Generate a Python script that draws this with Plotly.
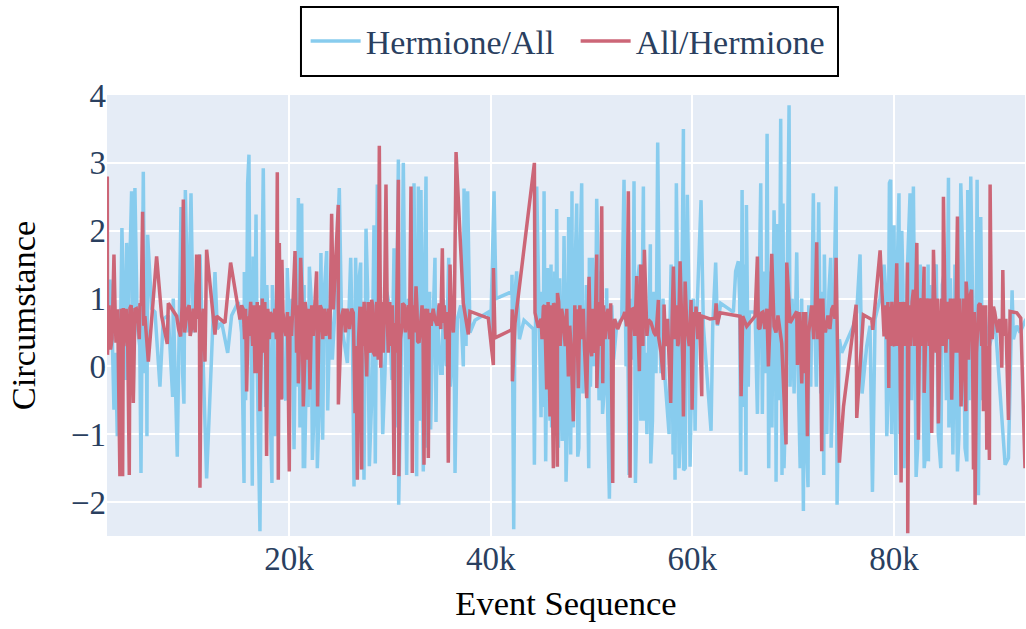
import plotly.graph_objects as go

# Event sequence (thousands), Circumstance value
hermione_all_spikes = [
(2.0,.5),(2.24,1.28),(2.64,-.64),(2.97,-1.03),(3.17,.8),(3.43,2.04),(3.63,.3),(3.76,-.2),(3.9,1.82),(4.06,.2),
(4.23,1.6),(4.39,2.58),(4.56,-.4),(4.72,2.63),(4.95,.6),(5.32,-1.57),(5.55,2.87),(5.71,-.1),(5.91,-1.03),(5.98,1.94),
(6.38,.85),(6.71,.8),(7.2,-.3),(7.53,.7),(8.03,.75),(8.46,-.45),(8.52,1.0),(8.92,-1.33),(9.29,2.35),(9.45,-.1),
(9.58,-.55),(9.72,2.6),(10.01,.5),(10.28,2.55),(10.51,.5),(11.17,1.65),(11.83,-1.65),(12.66,1.39),(12.89,.55),(13.32,.65),
(13.92,.2),(14.31,.75),(14.97,.95),(15.3,.5),(15.54,-1.72),(15.57,1.39),(15.8,.6),(15.9,2.7),(16.03,3.12),(16.13,.5),
(16.36,-1.76),(16.45,1.62),(16.73,2.24),(16.86,-.1),(17.12,-2.43),(17.45,2.92),(17.68,-.6),(17.95,.5),(18.31,-1.72),(18.35,1.2),
(18.61,-1.03),(19.11,.8),(19.44,-.4),(19.84,1.45),(20.1,.2),(20.5,-1.22),(20.66,.8),(20.93,2.48),(21.09,-.9),(21.26,2.4),
(21.42,-1.5),(21.55,-1.5),(21.75,.2),(22.02,1.47),(22.32,-1.38),(22.58,.6),(22.81,-1.5),(23.17,1.67),(23.34,-1.08),(23.74,1.7),
(23.84,-.65),(24.07,.9),(24.56,.85),(24.99,2.63),(25.22,.6),(25.79,.05),(26.12,1.6),(26.45,-1.77),(26.61,1.6),(26.78,0),
(27.11,1.53),(27.2,-1.52),(27.44,-1.67),(27.64,2.03),(27.97,-1.47),(28.43,2.08),(28.56,-1.43),(28.76,2.68),(29.19,0),(29.52,-.1),
(29.95,.9),(30.42,1.74),(30.52,-.9),(30.85,3.05),(30.88,-2.04),(31.34,3.0),(31.67,-1.6),(32.0,.5),(32.4,2.7),(32.66,-1.62),
(32.83,2.65),(33.09,2.6),(33.23,-.3),(33.32,-1.55),(33.59,2.8),(33.79,.2),(34.05,-.93),(34.48,1.6),(34.58,-.82),(34.81,.5),
(35.04,-.1),(35.47,.4),(35.84,1.6),(36.23,.3),(36.47,-1.57),(36.7,.7),(37.03,.9),(37.29,0),(37.36,2.62),(37.56,.3),
(37.72,2.58),(37.95,.5),(38.45,.68),(39.77,.8),(40.0,.5),(40.34,2.58),(40.53,1.0),(42.09,1.1),(42.12,1.35),(42.19,-.5),
(42.29,-2.4),(42.42,1.1),(42.58,1.4),(42.85,.4),(43.31,.68),(44.24,.55),(44.34,-1.45),(44.57,2.65),(44.9,.1),(45.0,-.75),
(45.3,2.58),(45.46,-1.4),(45.63,1.45),(45.89,-.8),(45.99,1.5),(46.22,-.6),(46.55,2.32),(46.72,-1.2),(47.28,1.92),(47.48,-1.7),
(47.74,2.2),(47.94,-1.3),(48.07,2.58),(48.2,-.9),(48.54,2.4),(48.64,-1.33),(49.03,2.7),(49.36,.2),(49.73,-1.5),(49.79,1.6),
(50.09,1.6),(50.26,0),(50.52,2.47),(50.85,-.2),(51.25,-.4),(51.51,1.15),(51.78,-1.95),(52.01,.9),(52.5,.6),(53.0,.7),
(53.23,2.75),(53.43,0),(53.73,-1.6),(54.0,1.0),(54.22,2.73),(54.36,-1.72),(54.75,1.5),(55.15,2.65),(55.25,-.8),(55.84,1.8),
(55.88,-1.43),(56.4,-.1),(56.57,3.3),(56.74,.8),(57.3,-.2),(57.7,-1.0),(57.9,1.5),(58.29,-1.67),(58.42,2.7),(58.69,-1.5),
(59.12,3.5),(59.14,-1.53),(59.51,2.53),(59.78,-1.48),(60.28,-.95),(60.44,.7),(60.87,2.45),(61.1,.6),(61.86,-.95),(62.03,.6),
(62.32,1.53),(62.49,.6),(62.82,.93),(64.08,.8),(64.57,1.55),(64.8,-1.55),(64.94,2.6),(65.07,-.6),(65.33,-1.6),(65.37,2.38),
(65.66,.8),(66.23,.8),(66.46,-.7),(66.79,2.7),(66.95,-.7),(67.42,3.43),(67.58,-1.5),(68.11,2.3),(68.31,-1.7),(68.44,2.1),
(68.77,3.65),(68.9,-1.6),(69.1,-1.5),(69.6,3.85),(69.7,-.3),(70.36,1.68),(70.53,-.3),(71.02,-2.13),(71.09,.7),(71.48,-1.78),
(71.55,.9),(72.01,2.55),(72.18,.6),(72.54,2.42),(72.74,-.4),(73.04,-1.6),(73.1,1.65),(73.73,1.6),(73.77,-1.2),(74.26,2.65),
(74.36,-2.04),(74.59,.4),(74.82,.2),(75.98,.6),(76.31,.8),(76.64,1.65),(76.84,-.4),(77.3,.3),(77.63,.6),(77.87,-1.85),
(78.13,.7),(78.63,1.0),(79.02,1.5),(79.29,-1.03),(79.55,2.7),(79.68,2.75),(79.78,-1.0),(80.01,2.08),(80.18,-1.6),(80.5,2.55),
(80.78,2.0),(81.0,-1.5),(81.6,2.55),(81.93,2.65),(82.2,-1.63),(82.6,1.5),(83.0,-1.5),(83.39,1.5),(83.42,-1.4),(84.2,1.5),
(84.65,-1.5),(85.0,1.4),(85.41,2.78),(85.45,-.9),(86.3,-1.55),(86.63,2.7),(87.23,-1.4),(87.32,2.6),(87.62,2.8),(87.95,-1.5),
(88.25,2.75),(88.38,-1.9),(88.61,2.2),(89.04,.8),(89.47,.3),(90.04,.65),(91.03,-1.45),(91.36,-1.35),(91.72,1.12),(91.85,.4),
(92.19,.6),(92.5,.5),(93.1,.7),
]

hermione_all_band = [
(2.4,.9),(2.8,.2),(3.3,.6),(4.15,1.5),(4.85,1.2),(5.2,.3),(5.85,.9),
(9.1,.4),(9.9,.9),(10.7,1.1),
(15.7,-.5),(16.2,1.0),(16.6,.2),(17.3,1.0),(17.8,1.2),(18.1,-.3),(18.5,.7),(19.3,1.1),(19.7,-.5),(20.3,1.0),(20.8,-.3),
(21.2,.5),(21.5,1.2),(21.9,-.6),(22.2,1.0),(22.45,-.8),(22.7,1.0),(23.0,-.6),(23.5,1.1),(23.95,.1),(24.3,.1),
(26.3,.3),(26.9,1.2),(27.3,.2),(27.55,.1),(27.8,1.1),(28.2,-.5),(28.65,1.0),(29.3,-1.0),(29.7,1.1),(30.2,-.2),(30.7,1.0),
(31.1,-.3),(31.5,.6),(31.85,1.0),(32.2,-.4),(32.5,1.2),(32.95,-.8),(33.15,1.3),(33.45,1.2),(33.7,-1.2),(33.95,1.1),(34.2,.2),
(34.7,.9),(35.2,-.1),(35.3,1.0),(35.6,0),(36.0,-.3),(36.35,1.0),
(45.1,1.1),(45.2,-.6),(45.75,1.2),(46.05,-.9),(46.35,1.4),(46.45,-.7),(46.85,1.3),(47.1,-1.1),(47.35,1.2),(47.6,-.9),(47.85,1.3),
(48.1,-.7),(48.35,1.3),(48.75,-1.2),(48.85,1.5),(49.15,-.4),(49.5,1.2),(49.9,-.3),(50.4,.4),(50.65,1.5),(50.75,-.5),(51.0,1.4),
(51.1,-.7),(51.4,-.3),(51.6,-.6),(52.2,.1),
(53.55,1.2),(53.85,.3),(54.1,.1),(54.5,-.7),(54.6,1.3),(54.9,-.8),(55.05,1.5),(55.35,.2),(55.5,-1.0),(55.7,1.2),(56.05,-.8),
(56.2,1.1),(56.9,-.1),(57.1,1.0),(57.5,-.7),(57.8,.7),(58.1,-1.3),(58.2,1.1),(58.55,1.2),(58.85,-.9),(59.0,1.4),(59.3,-1.5),
(59.4,1.3),(59.65,1.1),(59.9,-.5),(60.1,1.0),
(64.3,1.4),(64.7,1.0),(65.2,1.5),(65.55,-.3),(66.6,1.0),(67.1,1.4),(67.3,-.1),(67.7,1.4),(67.9,-.9),(68.25,1.3),(68.6,-.5),
(69.0,2.4),(69.3,-.3),(69.9,1.0),(70.1,-.4),(70.7,-1.5),(70.85,1.0),(71.25,-.9),(71.75,-.3),(72.1,1.0),(72.3,-.3),(72.9,1.1),
(73.35,-1.0),(73.55,1.1),(73.95,-.3),(74.1,1.4),
(79.15,1.2),(79.42,-.5),(79.9,.9),(80.3,1.2),(80.6,-1.0),(80.9,1.2),(81.15,-.3),(81.35,1.5),(81.75,-.5),(82.05,1.2),(82.35,-1.2),
(82.8,1.0),(83.2,-1.2),(83.55,1.2),(83.75,-.6),(83.95,1.4),(84.4,-1.0),(84.8,1.2),(85.2,-.5),(85.6,1.3),(85.85,-1.3),(86.05,1.5),
(86.45,-1.0),(86.85,1.5),(87.05,-1.2),(87.45,-.5),(87.8,1.0),(88.1,-.6),(88.5,1.0),(88.8,-.5),(89.2,.5),
]

all_hermione_spikes = [
(1.98,2.8),(2.0,.17),(2.3,.25),(2.64,1.65),(2.84,.35),(2.97,.84),(3.23,-1.62),(3.5,-1.62),(3.57,.86),(3.73,.49),
(4.16,-1.6),(4.23,.86),(4.56,-.54),(4.72,.84),(5.05,.64),(5.22,.93),(5.48,2.28),(5.71,.74),(6.05,.07),(6.87,1.62),
(7.37,.74),(7.93,.33),(8.03,.93),(8.52,.81),(8.86,.74),(9.25,.44),(9.52,2.46),(9.78,.64),(9.91,.84),(10.34,.56),
(10.84,1.65),(11.1,1.65),(11.17,-1.79),(11.67,.07),(11.83,1.72),(12.66,.47),(12.82,.74),(13.65,.64),(14.21,1.53),(15.14,.69),
(15.47,.84),(15.8,-.37),(15.96,.74),(16.3,.59),(16.63,-.1),(17.12,-.66),(17.29,.93),(17.78,-1.32),(18.28,.74),(18.84,2.86),
(18.94,-1.67),(19.04,1.82),(19.27,-.49),(19.3,1.57),(19.6,.54),(20.03,-1.55),(20.1,.74),(20.6,1.7),(20.93,-.25),(21.16,1.6),
(21.42,-.59),(21.75,.74),(22.08,-.34),(22.74,1.4),(22.84,-.59),(23.24,.84),(23.74,.54),(24.23,2.25),(24.4,.84),(24.89,2.38),
(24.9,-.56),(25.22,.74),(25.89,.74),(26.38,.79),(26.55,-.69),(26.78,-1.67),(27.04,.88),(27.21,-1.52),(27.25,.88),(27.71,-.15),
(28.2,.98),(28.53,.15),(28.96,3.25),(29.1,-.02),(29.62,2.68),(29.75,.69),(30.42,-1.6),(30.52,.64),(30.85,2.75),(30.9,-1.62),
(31.24,.64),(31.27,.93),(31.67,.74),(32.1,2.65),(32.23,-1.57),(32.6,1.18),(32.76,.37),(33.09,.84),(33.39,-1.45),(33.59,.69),
(33.82,-1.35),(33.92,.79),(34.48,.69),(34.91,.93),(35.21,1.74),(35.31,.64),(35.8,-1.42),(35.97,1.5),(36.14,.69),(36.57,3.16),
(36.9,2.2),(37.29,.93),(37.79,.47),(37.95,.81),(39.77,.71),(40.27,.02),(40.28,1.45),(40.43,.42),(42.09,.54),(42.15,.84),
(42.16,-.22),(42.42,.64),(44.34,3.0),(44.4,.79),(44.73,.57),(45.23,.88),(45.56,-.34),(45.89,-.74),(46.22,-1.5),(46.24,.93),
(46.62,-1.48),(46.63,1.08),(47.21,.69),(47.71,-.15),(48.2,-.81),(48.54,.84),(48.7,-.32),(49.03,.64),(49.53,-.47),(49.76,1.32),
(50.02,.15),(50.52,1.65),(50.53,-.32),(51.02,2.36),(51.12,-.25),(51.51,.74),(51.91,.93),(52.11,-1.72),(52.17,.54),(53.17,.74),
(53.5,.59),(53.66,2.58),(53.83,-1.64),(54.0,.84),(54.49,1.33),(54.75,-.07),(54.89,1.5),(55.25,1.72),(55.65,.69),(56.64,.98),
(56.65,.44),(57.13,-.2),(57.2,.91),(57.86,-.54),(58.13,1.47),(58.62,.34),(58.79,1.55),(59.12,-.74),(59.29,1.25),(59.88,.98),
(59.98,-.64),(60.37,.88),(60.94,-.44),(60.96,.74),(61.76,.7),(62.26,.71),(62.36,.93),(62.49,.62),(62.75,.79),(64.74,.74),
(64.84,-.44),(65.0,.74),(65.4,.59),(66.23,.74),(66.46,1.62),(66.56,.57),(66.89,.79),(67.55,0),(67.88,1.66),(68.11,.59),
(68.87,.34),(69.3,-1.15),(69.37,1.53),(69.7,.64),(70.36,.81),(70.43,.02),(70.86,-.25),(71.42,-1.03),(71.68,.69),(72.34,1.83),
(72.5,.93),(72.84,-1.25),(73.0,.69),(73.83,.84),(74.26,1.6),(74.59,-1.42),(75.0,-.59),(76.25,.91),(76.31,-.76),(76.97,.76),
(77.8,.69),(77.9,.54),(78.63,1.71),(79.02,.44),(79.49,-.32),(79.52,.88),(79.95,.34),(80.28,1.52),(80.71,-1.71),(80.94,.64),
(81.34,1.53),(81.37,-2.46),(81.93,1.13),(82.27,1.82),(82.43,-1.08),(82.7,1.0),(82.99,1.47),(83.0,-.39),(83.4,.9),(83.75,-.98),
(83.92,1.72),(84.41,-.84),(84.91,2.5),(85.24,.64),(85.73,-.49),(86.3,2.21),(86.66,-.59),(87.13,-.66),(87.16,1.25),(87.7,1.13),
(87.89,-1.52),(88.05,-2.04),(88.55,.93),(88.88,-.66),(89.21,-1.23),(89.47,-1.38),(89.54,2.68),(89.87,.88),(90.7,-.02),(90.8,1.42),
(91.36,-.79),(91.52,.81),(92.19,.79),(92.58,.71),(93.0,-1.5),
]

all_hermione_band = [
(2.15,.9),(2.45,.4),(2.75,.85),(3.05,.35),(3.35,.85),(3.62,.3),(3.85,.85),(4.0,.4),(4.35,.9),(4.65,.35),(4.85,.85),(5.15,.4),(5.35,.9),(5.6,.6),
(9.05,.55),(9.4,.9),(9.65,.5),(10.1,.9),(10.2,.45),(10.5,.85),(10.7,.5),(11.0,.7),(11.3,.5),(11.5,.85),
(15.3,.9),(15.6,.4),(15.7,.85),(16.0,.45),(16.2,.95),(16.4,.3),(16.5,.9),(16.75,.2),(16.85,.95),(16.95,-.1),(17.05,.9),(17.2,.1),(17.35,1.0),
(17.5,.2),(17.6,.95),(17.7,.1),(17.9,.85),(18.05,.4),(18.15,.8),(18.4,.5),(18.6,.85),(18.75,.4),(19.15,.5),(19.4,.8),(19.7,.45),(19.85,.8),
(20.25,.45),(20.4,.95),(20.75,.2),(20.85,.9),(21.0,.1),(21.3,.95),(21.55,.05),(21.6,.95),(21.85,.1),(21.95,.85),(22.15,.2),(22.25,.9),(22.4,.45),
(22.55,.9),(22.95,.45),(23.1,.9),(23.35,.4),(23.5,.85),(23.65,.45),(23.9,.85),(24.05,.4),
(25.4,.85),(25.6,.5),(25.75,.85),(26.0,.55),(26.2,.85),(26.65,.3),(26.9,.4),(27.3,.3),(27.45,.95),(27.6,.1),(27.85,.95),(28.05,.2),(28.3,.9),(28.4,.2),
(28.7,.95),(28.85,.1),(29.2,.95),(29.35,.2),(29.5,1.2),(29.85,.2),(30.0,.95),(30.1,.3),(30.25,.9),(30.6,.2),(30.7,1.0),(31.05,.4),(31.45,.9),(31.55,.5),
(31.85,.9),(31.95,.4),(32.3,.9),(32.45,.5),(32.7,.85),(32.9,.35),(33.2,.9),(33.3,.4),(33.5,.85),(33.65,.4),(33.75,.85),(34.1,.6),(34.3,.85),(34.7,.6),
(35.05,.55),(35.4,.9),(35.55,.4),(35.7,.8),(36.05,.9),(36.3,.5),(36.4,.8),
(45.0,.7),(45.1,.4),(45.35,.9),(45.45,.2),(45.7,.95),(45.8,.1),(46.0,.9),(46.1,-.3),(46.35,.9),(46.5,-.3),(46.75,.95),(46.9,.3),(47.05,.85),(47.4,.3),
(47.55,.85),(47.85,.6),(48.0,.2),(48.35,.9),(48.45,.2),(48.85,.9),(48.95,.4),(49.2,.85),(49.3,.3),(49.65,.9),(49.9,.3),(50.15,.85),(50.3,.2),(50.42,.95),
(50.65,.2),(50.8,.95),(50.9,.3),(51.2,.9),(51.35,.4),(51.65,.85),(51.8,.4),(52.3,.7),(52.6,.55),(52.85,.65),
(53.3,.8),(53.55,.9),(53.9,.5),(54.15,.85),(54.3,.45),(54.55,.8),(54.65,.4),(55.0,.85),(55.1,.3),(55.4,.8),(55.5,.45),(55.9,.65),(56.2,.5),(56.4,.45),
(56.9,.2),(57.35,.3),(57.55,.7),(57.7,.1),(58.0,.7),(58.3,.4),(58.45,.9),(58.55,.3),(58.95,.8),(59.05,.1),(59.45,.6),(59.7,.3),(60.15,.8),(60.3,.6),(60.55,.4),(60.7,.8),
(66.7,.55),(67.0,.8),(67.2,.55),(67.4,.85),(67.7,.6),(68.0,.85),(68.3,.5),(68.5,.75),
(70.6,.8),(70.7,.3),(71.0,.8),(71.1,-.1),(71.25,.8),(71.55,.5),(71.85,.9),(72.05,.4),(72.2,.9),(72.45,.4),(72.6,1.0),(72.72,.3),(72.95,1.0),(73.2,.5),
(73.45,.75),(73.65,.55),(74.0,.9),(74.15,.7),
(79.1,.9),(79.3,.4),(79.4,.95),(79.65,.3),(79.8,.95),(80.05,.3),(80.15,.95),(80.4,.3),(80.5,.95),(80.6,.2),(80.85,.95),(81.05,.3),(81.15,.95),(81.25,.3),
(81.5,.9),(81.65,.3),(81.8,.95),(82.05,.3),(82.15,.95),(82.35,.3),(82.55,.95),(82.8,.3),(82.9,.95),(83.1,.3),(83.25,1.0),(83.5,.3),(83.6,1.0),(83.85,.3),
(84.05,1.0),(84.2,.2),(84.3,1.0),(84.55,.3),(84.7,1.0),(84.85,.3),(85.05,1.0),(85.15,.2),(85.35,.95),(85.5,.4),(85.6,1.0),(85.85,.2),(85.95,1.0),(86.1,.2),
(86.2,1.0),(86.4,.2),(86.5,1.0),(86.75,.2),(86.9,1.0),(87.0,.3),(87.3,.95),(87.4,.1),(87.5,1.0),(87.8,.2),(87.97,.8),(88.2,.2),(88.4,.9),(88.7,.3),(88.8,.9),
(89.0,.4),(89.1,.9),(89.35,.3),(89.65,.85),(89.75,.4),(90.0,.8),(90.3,.5),(90.5,.7),(90.9,.45),(91.1,.7),
]

k_to_events = 1000
series_names = ["Hermione/All", "All/Hermione"]
series_colors = ["#88CCEE", "#CC6677"]
series_points = [
    sorted(hermione_all_spikes + hermione_all_band, key=lambda p: p[0]),
    sorted(all_hermione_spikes + all_hermione_band, key=lambda p: p[0]),
]

fig = go.Figure()
for name, color, pts in zip(series_names, series_colors, series_points):
    fig.add_trace(go.Scatter(
        x=[p[0] * k_to_events for p in pts],
        y=[p[1] for p in pts],
        mode="lines", name=name,
        line=dict(color=color, width=3.5),
    ))

fig.update_layout(
    template="plotly",
    width=1026, height=629,
    margin=dict(l=107, r=1, t=95, b=93, autoexpand=False),
    font=dict(family="Liberation Serif", size=33, color="#2a3f5f"),
    legend=dict(
        orientation="h", x=0.5105, xanchor="center", y=1.1213, yanchor="middle",
        borderwidth=0, bgcolor="rgba(0,0,0,0)",
        font=dict(size=34), itemwidth=50, entrywidth=205, entrywidthmode="pixels",
    ),
    xaxis=dict(
        title=dict(text="Event Sequence", font=dict(color="black", size=34.5), standoff=14),
        range=[1950, 93000], dtick=20000, tick0=0, gridwidth=2, gridcolor="white",
        tickfont=dict(size=33), zeroline=False,
    ),
    yaxis=dict(
        title=dict(text="Circumstance", font=dict(color="black", size=34.5), standoff=24),
        range=[-2.5, 4], dtick=1, gridwidth=2, gridcolor="white",
        tickfont=dict(size=33), zerolinewidth=2, zerolinecolor="white",
    ),
    shapes=[dict(
        type="rect", xref="paper", yref="paper",
        x0=0.2113, x1=0.7963, y0=1.0431, y1=1.1995,
        line=dict(color="black", width=2), fillcolor="white",
    )],
)
fig.write_html("out.html", post_script="document.body.style.margin='0';",
               config={"displayModeBar": False})
